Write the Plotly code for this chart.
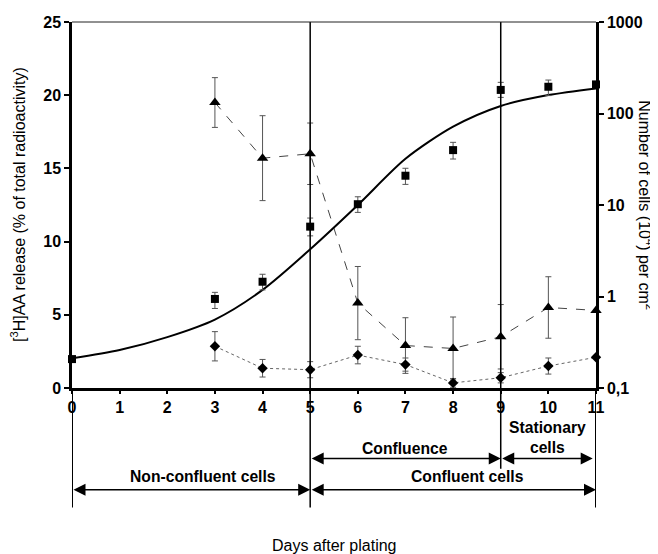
import plotly.graph_objects as go

# ---- data ----
days_tri = [3, 4, 5, 6, 7, 8, 9, 10, 11]
aa_tri = [19.5, 15.7, 16.0, 5.8, 2.9, 2.7, 3.5, 5.5, 5.3]
aa_tri_err = [1.7, 2.9, 2.1, 2.5, 1.9, 2.15, 2.2, 2.1, 0]

days_dia = [3, 4, 5, 6, 7, 8, 9, 10, 11]
aa_dia = [2.85, 1.35, 1.25, 2.25, 1.6, 0.35, 0.7, 1.5, 2.1]
aa_dia_err = [1.0, 0.6, 0.55, 0.6, 0.45, 0.3, 0.35, 0.55, 0]

days_sq = [0, 3, 4, 5, 6, 7, 8, 9, 10, 11]
cells = [0.207, 0.94, 1.45, 5.8, 10.2, 20.9, 39.8, 181, 196, 208]
cells_hi = [0.207, 1.11, 1.75, 7.2, 12.3, 25.2, 48.4, 219, 232, 208]
cells_lo = [0.207, 0.74, 1.18, 4.6, 8.3, 16.8, 31.8, 150, 157, 208]

days_fit = [0, 1, 2, 3, 4, 5, 6, 7, 8, 9, 10, 11]
cells_fit = [0.211, 0.26, 0.36, 0.56, 1.18, 3.28, 10.0, 32.0, 71.8, 121, 159, 188]

x_ticks = list(range(0, 12))
y1_ticks = [0, 5, 10, 15, 20, 25]
y2_ticks = [0.1, 1, 10, 100, 1000]
y2_ticktext = ["0,1", "1", "10", "100", "1000"]

phase_lines = [5, 9]

FONT = "Liberation Sans, Arial, sans-serif"

fig = go.Figure()

fig.add_trace(go.Scatter(
    x=days_tri, y=aa_tri, mode="lines+markers",
    line=dict(color="#444", width=1, dash="dash"),
    marker=dict(symbol="triangle-up", size=10, color="black"),
    error_y=dict(type="data", array=aa_tri_err, color="#555", thickness=1, width=3),
    showlegend=False, cliponaxis=False))

fig.add_trace(go.Scatter(
    x=days_dia, y=aa_dia, mode="lines+markers",
    line=dict(color="#666", width=1, dash="dot"),
    marker=dict(symbol="diamond", size=8, color="black"),
    error_y=dict(type="data", array=aa_dia_err, color="#555", thickness=1, width=3),
    showlegend=False, cliponaxis=False))

fig.add_trace(go.Scatter(
    x=days_fit, y=cells_fit, mode="lines", yaxis="y2",
    line=dict(color="black", width=2, shape="spline", smoothing=0.8),
    showlegend=False))

fig.add_trace(go.Scatter(
    x=days_sq, y=cells, mode="markers", yaxis="y2",
    marker=dict(symbol="square", size=8, color="black"),
    error_y=dict(type="data", symmetric=False,
                 array=[h - v for h, v in zip(cells_hi, cells)],
                 arrayminus=[v - l for v, l in zip(cells, cells_lo)],
                 color="#555", thickness=1, width=3),
    showlegend=False, cliponaxis=False))

shapes = []
for xv, ybot in zip(phase_lines, [-0.3266, -0.2207]):
    shapes.append(dict(type="line", xref="x", yref="paper", x0=xv, x1=xv,
                       y0=ybot, y1=1, line=dict(color="black", width=1.5)))
for xv in [x_ticks[0], x_ticks[-1]]:
    shapes.append(dict(type="line", xref="x", yref="paper", x0=xv, x1=xv,
                       y0=-0.3266, y1=0, line=dict(color="black", width=2)))
shapes.append(dict(type="line", xref="paper", yref="paper", x0=0, x1=1,
                   y0=1, y1=1, line=dict(color="#222", width=1)))

annotations = []
def arrow(x0, x1, yp):
    annotations.append(dict(
        x=x1, y=yp, xref="x", yref="paper", ax=x0, ay=0, axref="x", ayref="pixel",
        text="", showarrow=True, arrowhead=2, startarrowhead=2,
        arrowside="end+start", arrowsize=1.6, startarrowsize=1.6,
        arrowwidth=1.5, arrowcolor="black", standoff=0, startstandoff=0))

arrow(0, 5, -0.278)
arrow(5, 11, -0.278)
arrow(5, 9, -0.1926)
arrow(9, 10.93, -0.1926)

lab_font = dict(family=FONT, size=15.7, color="black", weight="bold")
def label(x, y, text, font, xref="x", **kw):
    annotations.append(dict(x=x, y=y, xref=xref, yref="paper", text=text,
                            showarrow=False, font=font, xanchor="center",
                            yanchor="middle", **kw))

label(2.74, -0.2426, "Non-confluent cells", lab_font)
label(8.3, -0.2426, "Confluent cells", lab_font)
label(7.0, -0.165, "Confluence", lab_font)
label(9.98, -0.136, "Stationary<br>cells", lab_font)
label(0.5, -0.431, "Days after plating", dict(family=FONT, size=16, color="black"), xref="paper")
label(-0.103, 0.5, "[<sup>3</sup>H]AA release (% of total radioactivity)",
      dict(family=FONT, size=16, color="black"), xref="paper", textangle=-90)
label(1.095, 0.5, "Number of cells (10<sup>4</sup>) per cm<sup>2</sup>",
      dict(family=FONT, size=16, color="black"), xref="paper", textangle=90)

tick_font = dict(family=FONT, size=16, color="black", weight="bold")

fig.update_layout(
    width=658, height=554,
    margin=dict(l=64, r=70, t=14, b=174),
    paper_bgcolor="white", plot_bgcolor="white",
    xaxis=dict(range=[0, 11], tickvals=x_ticks, showgrid=False, zeroline=False,
               showline=True, linecolor="black", linewidth=2.5, automargin=False,
               ticks="outside", ticklen=3, tickwidth=1.5, tickcolor="black",
               tickfont=tick_font),
    yaxis=dict(range=[0, 25], tickvals=y1_ticks, showgrid=False, zeroline=False,
               showline=True, linecolor="black", linewidth=2.5, automargin=False,
               ticks="outside", ticklen=5, tickwidth=1.5, tickcolor="black",
               tickfont=tick_font),
    yaxis2=dict(type="log", range=[-1, 3], overlaying="y", side="right",
                tickvals=y2_ticks, ticktext=y2_ticktext, showgrid=False,
                zeroline=False, showline=True, linecolor="black", linewidth=2.5,
                automargin=False,
                ticks="outside", ticklen=5, tickwidth=1.5, tickcolor="black",
                tickfont=tick_font),
    shapes=shapes,
    annotations=annotations,
)

fig.write_html("out.html")
